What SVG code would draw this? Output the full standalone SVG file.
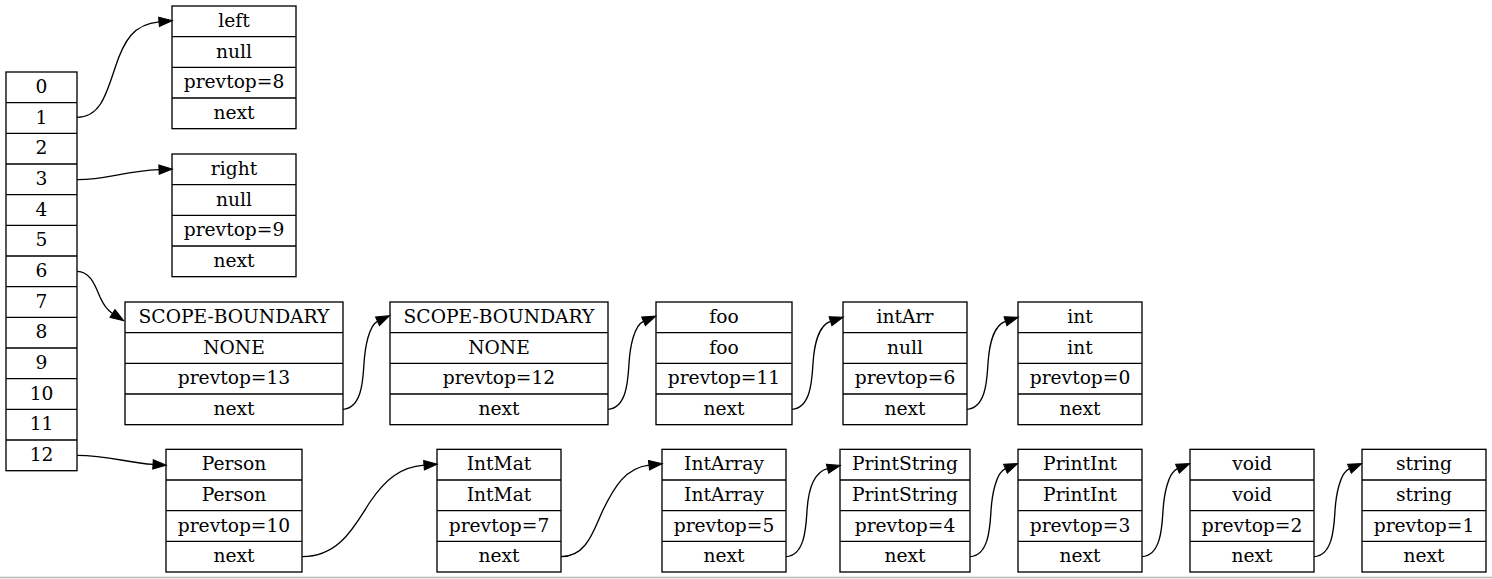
<svg xmlns="http://www.w3.org/2000/svg" width="1492" height="579" viewBox="0 0 1492 579">
<style>
.box{fill:#fff;stroke:#000;stroke-width:1.33}
.sep{stroke:#000;stroke-width:1.33}
text{font-family:"DejaVu Serif","Liberation Serif",serif;font-size:18.67px;text-anchor:middle;fill:#000}
.edge{fill:none;stroke:#000;stroke-width:1.33;marker-end:url(#ah)}
</style>
<defs>
<marker id="ah" markerUnits="userSpaceOnUse" markerWidth="14" markerHeight="10" viewBox="0 -5 14 10" refX="0" refY="0" orient="auto" overflow="visible"><path d="M0,-4.7 L13.3,0 L0,4.7 Z" fill="#000" stroke="#000" stroke-width="1"/></marker>
</defs>
<rect width="1492" height="579" fill="#fff"/>
<line x1="0" y1="577.5" x2="1492" y2="577.5" stroke="#b8b8b8" stroke-width="1.5"/>

<g id="array">
<rect class="box" x="6" y="72" width="71" height="398.7"/>
<path class="sep" d="M6,102.67H77M6,133.33H77M6,164H77M6,194.67H77M6,225.33H77M6,256H77M6,286.67H77M6,317.33H77M6,348H77M6,378.67H77M6,409.33H77M6,440H77"/>
<text x="41.5" y="92.8">0</text><text x="41.5" y="123.5">1</text><text x="41.5" y="154.2">2</text><text x="41.5" y="184.8">3</text><text x="41.5" y="215.5">4</text><text x="41.5" y="246.2">5</text><text x="41.5" y="276.8">6</text><text x="41.5" y="307.5">7</text><text x="41.5" y="338.2">8</text><text x="41.5" y="368.8">9</text><text x="41.5" y="399.5">10</text><text x="41.5" y="430.2">11</text><text x="41.5" y="460.8">12</text>
</g>

<g id="left">
<rect class="box" x="172" y="6" width="124" height="122.67"/>
<path class="sep" d="M172,36.67H296M172,67.33H296M172,98H296"/>
<text x="234" y="26.8">left</text><text x="234" y="57.5">null</text><text x="234" y="88.2">prevtop=8</text><text x="234" y="118.8">next</text>
</g>

<g id="right">
<rect class="box" x="172" y="154" width="124" height="122.67"/>
<path class="sep" d="M172,184.67H296M172,215.33H296M172,246H296"/>
<text x="234" y="174.8">right</text><text x="234" y="205.5">null</text><text x="234" y="236.2">prevtop=9</text><text x="234" y="266.8">next</text>
</g>

<g id="scope1">
<rect class="box" x="125" y="302" width="218" height="122.67"/>
<path class="sep" d="M125,332.67H343M125,363.33H343M125,394H343"/>
<text x="234" y="322.8">SCOPE-BOUNDARY</text><text x="234" y="353.5">NONE</text><text x="234" y="384.2">prevtop=13</text><text x="234" y="414.8">next</text>
</g>

<g id="scope2">
<rect class="box" x="390" y="302" width="218" height="122.67"/>
<path class="sep" d="M390,332.67H608M390,363.33H608M390,394H608"/>
<text x="499" y="322.8">SCOPE-BOUNDARY</text><text x="499" y="353.5">NONE</text><text x="499" y="384.2">prevtop=12</text><text x="499" y="414.8">next</text>
</g>

<g id="foo">
<rect class="box" x="656" y="302" width="136" height="122.67"/>
<path class="sep" d="M656,332.67H792M656,363.33H792M656,394H792"/>
<text x="724" y="322.8">foo</text><text x="724" y="353.5">foo</text><text x="724" y="384.2">prevtop=11</text><text x="724" y="414.8">next</text>
</g>

<g id="intArr">
<rect class="box" x="843" y="302" width="124" height="122.67"/>
<path class="sep" d="M843,332.67H967M843,363.33H967M843,394H967"/>
<text x="905" y="322.8">intArr</text><text x="905" y="353.5">null</text><text x="905" y="384.2">prevtop=6</text><text x="905" y="414.8">next</text>
</g>

<g id="int">
<rect class="box" x="1018" y="302" width="124" height="122.67"/>
<path class="sep" d="M1018,332.67H1142M1018,363.33H1142M1018,394H1142"/>
<text x="1080" y="322.8">int</text><text x="1080" y="353.5">int</text><text x="1080" y="384.2">prevtop=0</text><text x="1080" y="414.8">next</text>
</g>

<g id="Person">
<rect class="box" x="166" y="449.33" width="136" height="122.67"/>
<path class="sep" d="M166,480H302M166,510.67H302M166,541.33H302"/>
<text x="234" y="470.1">Person</text><text x="234" y="500.8">Person</text><text x="234" y="531.5">prevtop=10</text><text x="234" y="562.1">next</text>
</g>

<g id="IntMat">
<rect class="box" x="437" y="449.33" width="124" height="122.67"/>
<path class="sep" d="M437,480H561M437,510.67H561M437,541.33H561"/>
<text x="499" y="470.1">IntMat</text><text x="499" y="500.8">IntMat</text><text x="499" y="531.5">prevtop=7</text><text x="499" y="562.1">next</text>
</g>

<g id="IntArray">
<rect class="box" x="662" y="449.33" width="124" height="122.67"/>
<path class="sep" d="M662,480H786M662,510.67H786M662,541.33H786"/>
<text x="724" y="470.1">IntArray</text><text x="724" y="500.8">IntArray</text><text x="724" y="531.5">prevtop=5</text><text x="724" y="562.1">next</text>
</g>

<g id="PrintString">
<rect class="box" x="840" y="449.33" width="130" height="122.67"/>
<path class="sep" d="M840,480H970M840,510.67H970M840,541.33H970"/>
<text x="905" y="470.1">PrintString</text><text x="905" y="500.8">PrintString</text><text x="905" y="531.5">prevtop=4</text><text x="905" y="562.1">next</text>
</g>

<g id="PrintInt">
<rect class="box" x="1018" y="449.33" width="124" height="122.67"/>
<path class="sep" d="M1018,480H1142M1018,510.67H1142M1018,541.33H1142"/>
<text x="1080" y="470.1">PrintInt</text><text x="1080" y="500.8">PrintInt</text><text x="1080" y="531.5">prevtop=3</text><text x="1080" y="562.1">next</text>
</g>

<g id="void">
<rect class="box" x="1190" y="449.33" width="124" height="122.67"/>
<path class="sep" d="M1190,480H1314M1190,510.67H1314M1190,541.33H1314"/>
<text x="1252" y="470.1">void</text><text x="1252" y="500.8">void</text><text x="1252" y="531.5">prevtop=2</text><text x="1252" y="562.1">next</text>
</g>

<g id="string">
<rect class="box" x="1362" y="449.33" width="124" height="122.67"/>
<path class="sep" d="M1362,480H1486M1362,510.67H1486M1362,541.33H1486"/>
<text x="1424" y="470.1">string</text><text x="1424" y="500.8">string</text><text x="1424" y="531.5">prevtop=1</text><text x="1424" y="562.1">next</text>
</g>

<g id="connectors">
<path class="edge" d="M77,117.3 C100,117.3 106,95 115,68 C124,40 134,24 159,21.8"/>
<path class="edge" d="M77,179.7 C105,180 125,171 159,169.6"/>
<path class="edge" d="M77,271.3 C90,271.3 95,285 100,297 C104,306 107,310 112.5,313.5"/>
<path class="edge" d="M77,455.3 C108,455.3 128,463 153,464.4"/>
<path class="edge" d="M343,409.3 C362,408.3 363,379.3 364,363.3 C365,347.3 369,325.3 377.5,321.3"/>
<path class="edge" d="M608,409.3 C627,408.3 628,379.3 629,363.3 C630,347.3 634,325.3 643.5,321.3"/>
<path class="edge" d="M792,409.3 C811,408.3 812,379.3 813,363.3 C814,347.3 818,325.3 830.5,321.3"/>
<path class="edge" d="M967,409.3 C986,408.3 987,379.3 988,363.3 C989,347.3 993,325.3 1005.5,321.3"/>
<path class="edge" d="M302,556.7 C340,556.7 355,525 370,502 C385,480 400,467 424,465.2"/>
<path class="edge" d="M561,556.7 C588,556.7 594,528 604,508 C614,488 625,468 649,465.2"/>
<path class="edge" d="M786,556.7 C805,555.7 806,526.7 807,510.7 C808,494.7 812,472.7 827.5,468.7"/>
<path class="edge" d="M970,556.7 C989,555.7 990,526.7 991,510.7 C992,494.7 996,472.7 1005.5,468.7"/>
<path class="edge" d="M1142,556.7 C1161,555.7 1162,526.7 1163,510.7 C1164,494.7 1168,472.7 1177.5,468.7"/>
<path class="edge" d="M1314,556.7 C1333,555.7 1334,526.7 1335,510.7 C1336,494.7 1340,472.7 1349.5,468.7"/>
</g>
</svg>
